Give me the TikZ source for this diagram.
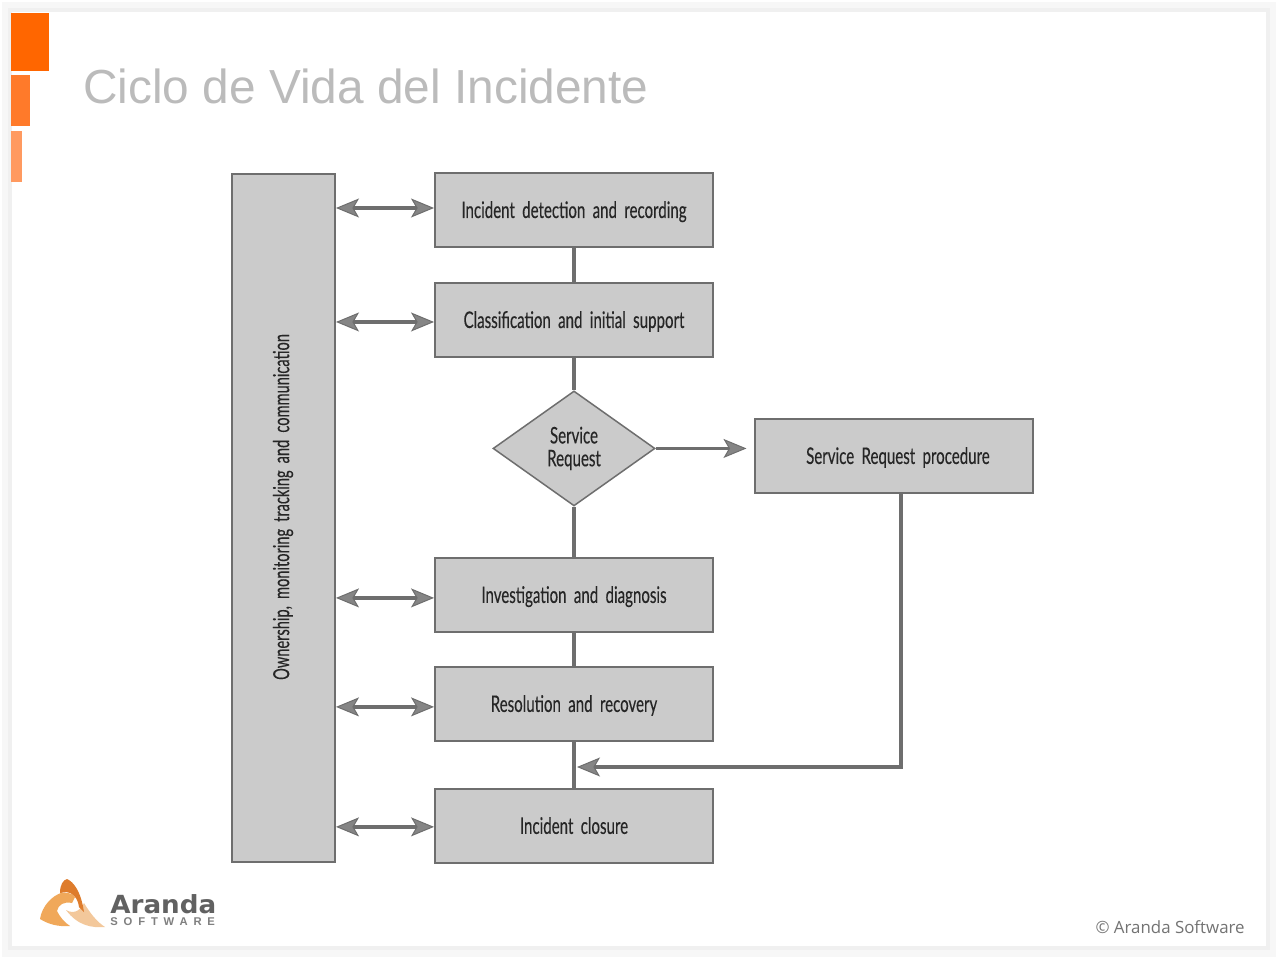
\documentclass[tikz,border=0pt]{standalone}
\usepackage{fontspec}
\setmainfont{Liberation Sans}
\newfontfamily\boxfont[FakeStretch=0.66,FakeBold=0.25,WordSpace=1.9]{Lato}
\newfontfamily\copyfont{Open Sans}
\newfontfamily\logofont[FakeStretch=1.05]{DejaVu Sans}
\newfontfamily\logosmall[LetterSpace=52]{Liberation Sans}
\usetikzlibrary{arrows.meta,shapes.geometric,calc}
\definecolor{edgegray}{HTML}{6E6E6E}
\definecolor{tipgray}{HTML}{858585}
\definecolor{boxgray}{HTML}{CBCBCB}
\definecolor{titlegray}{HTML}{BBBBBB}
\definecolor{textdark}{HTML}{262626}
\tikzset{
  stagebox/.style={draw=edgegray, fill=boxgray, line width=0.04cm, minimum width=5.56cm,
    minimum height=1.48cm, inner sep=0pt, text=textdark, text height=0.36cm, text depth=0.04cm,
    font=\boxfont\fontsize{13}{15}\selectfont},
  link/.style={draw=edgegray, line width=0.065cm},
  flowtip/.tip={Stealth[length=0.46cm,width=0.38cm,inset=0.11cm,fill=tipgray,line width=0.02cm]},
  flow/.style={link, -flowtip},
  biflow/.style={link, flowtip-flowtip}
}
\begin{document}
\begin{tikzpicture}[x=0.02cm, y=-0.02cm]
    \useasboundingbox (0,0) rectangle (1278,959);
    % slide
    \fill[black!3] (2,2) rectangle (1276,957);
    \fill[black!6] (8,8) rectangle (1270,950);
    \fill[white] (12,12) rectangle (1266,946);
    \fill[fill={rgb,255:red,255;green,102;blue,0}] (11,13) rectangle (49,71);
    \fill[fill={rgb,255:red,255;green,122;blue,42}] (11,75) rectangle (30,126);
    \fill[fill={rgb,255:red,255;green,154;blue,96}] (11,131) rectangle (22,182);
    \node (title) [anchor=west, inner sep=0pt, text=titlegray, font=\fontsize{27.2}{32}\selectfont] at (83,86) {Ciclo de Vida del Incidente};

    % stages
    \node (detect) [stagebox] at (574,210) {Incident detection and recording};
    \node (classify) [stagebox, node distance=2.2cm, below of=detect] {Classification and initial support};
    \node (service) [diamond, draw=edgegray, fill=boxgray, line width=0.03cm, inner sep=0pt,
      minimum width=3.24cm, minimum height=2.3cm, align=center, text=textdark,
      font=\boxfont\fontsize{13}{13}\selectfont, node distance=2.57cm, below of=classify] {Service\\Request};
    \node (investigate) [stagebox, node distance=2.93cm, below of=service] {Investigation and diagnosis};
    \node (resolve) [stagebox, node distance=2.18cm, below of=investigate] {Resolution and recovery};
    \node (closure) [stagebox, node distance=2.44cm, below of=resolve] {Incident closure};
    \node (procedure) [stagebox, node distance=6.41cm, right of=service, yshift=-0.15cm] {\hspace*{0.14cm}Service Request procedure};
    \node (owner) [stagebox, minimum width=2.06cm, minimum height=13.76cm] at (283.5,518) {};
    \node (ownerlabel) [rotate=90, text=textdark, inner sep=0pt, font=\boxfont\fontsize{12.6}{15}\selectfont] at (283,507) {Ownership, monitoring tracking and communication};

    \coordinate (merge) at (577,767);

    \draw[link] (detect) -- (classify);
    \draw[link] (classify) -- (service);
    \draw[link] (service) -- (investigate);
    \draw[link] (investigate) -- (resolve);
    \draw[link] (resolve) -- (closure);
    \draw[flow] (service.east) -- ([xshift=-0.16cm]procedure.west |- service.east);
    \draw[flow] ([xshift=0.13cm]procedure.south) |- (merge);

    \draw[biflow] ([yshift=0.04cm]detect.west -| owner.east) -- ([yshift=0.04cm]detect.west);
    \draw[biflow] ([yshift=-0.04cm]classify.west -| owner.east) -- ([yshift=-0.04cm]classify.west);
    \draw[biflow] ([yshift=-0.06cm]investigate.west -| owner.east) -- ([yshift=-0.06cm]investigate.west);
    \draw[biflow] ([yshift=-0.06cm]resolve.west -| owner.east) -- ([yshift=-0.06cm]resolve.west);
    \draw[biflow] ([yshift=-0.02cm]closure.west -| owner.east) -- ([yshift=-0.02cm]closure.west);

    % logo
    \fill[fill={rgb,255:red,243;green,200;blue,155}] (66,910) .. controls (76,916) and (82,907) .. (84,903) .. controls (90,913) and (97,922) .. (105,927) .. controls (92,928) and (78,926) .. (66,910) -- cycle;
    \fill[fill={rgb,255:red,240;green,168;blue,90}] (40,919) .. controls (42,906) and (52,896) .. (61,893) .. controls (66,892) and (72,893) .. (75,897) -- (72,903) .. controls (64,901) and (58,905) .. (57,911) .. controls (60,917) and (64,922) .. (70,926) .. controls (58,927) and (48,924) .. (40,919) -- cycle;
    \fill[fill={rgb,255:red,222;green,124;blue,44}] (60,893) .. controls (60,885) and (63,880) .. (67,879) .. controls (74,882) and (81,892) .. (84,912) -- (79,907) .. controls (78,898) and (72,892) .. (66,892) -- cycle;
    \node (logoname) [anchor=west, inner sep=0pt, text=black!62, font=\logofont\bfseries\fontsize{14.2}{15}\selectfont] at (110,904) {Aranda};
    \node (logosub) [anchor=west, inner sep=0pt, text=black!50, font=\logosmall\bfseries\fontsize{6.4}{7}\selectfont] at (110,922) {SOFTWARE};
    \node (copyright) [anchor=east, inner sep=0pt, text=black!55, font=\copyfont\fontsize{9.6}{11}\selectfont] at (1245,927) {© Aranda Software};
\end{tikzpicture}
\end{document}
